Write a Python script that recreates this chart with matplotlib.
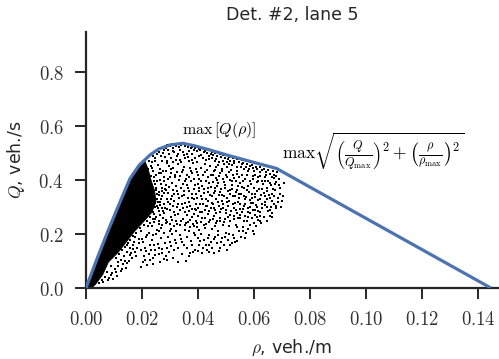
import matplotlib
matplotlib.use("Agg")
import matplotlib.pyplot as plt
from matplotlib.ticker import FuncFormatter

plt.rcParams['font.family'] = ['DejaVu Sans']
plt.rcParams['mathtext.fontset'] = 'cm'

title = "Det. #2, lane 5"
x_label = r"$\rho$, veh./m"
y_label = r"$Q$, veh./s"
x_ticks = [0.00, 0.02, 0.04, 0.06, 0.08, 0.10, 0.12, 0.14]
y_ticks = [0.0, 0.2, 0.4, 0.6, 0.8]

# Fitted fundamental diagram (blue curve): density (veh./m), flow (veh./s)
curve_rho = [0.0, 0.004, 0.008, 0.012, 0.0157, 0.019, 0.0229, 0.026, 0.030,
             0.0346, 0.039, 0.0443, 0.0505, 0.0568, 0.0625, 0.0680, 0.1446]
curve_q = [0.0, 0.110, 0.215, 0.315, 0.405, 0.455, 0.493, 0.515, 0.530,
           0.536, 0.526, 0.511, 0.492, 0.474, 0.458, 0.443, 0.0]

# Saturated (solid black) core of the measurement cloud: outline (rho, Q)
core_rho = [0.0000, 0.0040, 0.0080, 0.0120, 0.0157, 0.0190, 0.0210, 0.0222,
            0.0232, 0.0245, 0.0250, 0.0235, 0.0205, 0.0175, 0.0145, 0.0115,
            0.0080, 0.0060, 0.0035, 0.0020]
core_q = [0.000, 0.110, 0.215, 0.315, 0.405, 0.452, 0.470, 0.440,
          0.400, 0.360, 0.320, 0.280, 0.245, 0.212, 0.172, 0.132,
          0.096, 0.050, 0.015, 0.000]

# Individual measurements, (rho in 1e-3 veh./m, Q in 1e-3 veh./s)
core_edge_points = [
    (22.0,440),(23.2,415),(24.6,385),(25.3,350),(25.8,320),(25.4,305),(24.3,275),(23.0,262),(21.8,250),
    (20.6,235),(19.2,222),(18.0,205),(16.8,192),(15.6,178),(14.6,160),(23.6,445),(24.2,398),(26.4,400),
    (27.2,360),(26.9,330),(24.0,255),(22.1,230),(19.8,210),(17.6,190),
]

dense_points = [
    (22.5,470),(23.1,452),(24.0,488),(25.2,498),(26.0,505),(24.6,470),(25.8,455),(23.8,432),(25.1,418),
    (26.3,440),(27.0,470),(27.4,500),(26.8,425),(25.5,395),(26.9,385),(24.9,372),(26.1,355),(27.3,342),
    (25.3,330),(26.6,318),(24.7,300),(25.9,286),(27.1,296),(26.4,270),(25.0,262),(27.6,258),(24.2,245),
    (26.0,236),(23.4,228),(25.2,214),(22.6,205),(24.1,196),(21.4,188),(27.9,410),(28.2,365),(28.0,312),
    (27.7,278),(28.4,240),(26.7,222),
    (28.6,520),(29.3,512),(30.1,525),(31.0,518),(32.2,527),(33.1,522),(29.8,495),(31.4,502),(32.8,498),
    (30.5,480),(28.9,470),(32.0,474),(33.0,458),(29.6,452),(31.2,446),(28.7,432),(30.3,425),(32.5,430),
    (31.7,410),(29.2,402),(33.2,400),(30.6,390),(28.5,382),(32.3,378),(31.1,364),(29.4,352),(30.8,340),
    (32.9,348),(28.8,330),(31.6,322),(30.0,310),(32.4,300),(29.1,292),(31.3,282),(33.0,275),(30.4,262),
    (28.6,252),(32.1,248),(29.9,238),(31.5,228),(30.2,218),(33.4,232),
    (34.0,530),(35.2,526),(36.4,521),(37.5,518),(38.6,512),(34.6,505),(36.0,498),(37.9,495),(35.5,480),
    (34.1,468),(36.9,470),(38.3,462),(35.0,448),(37.2,444),(34.4,428),(36.1,420),(38.0,425),(35.7,405),
    (37.4,398),(34.8,385),(38.8,380),(36.5,372),(35.1,358),(37.7,350),(34.2,340),(36.3,335),(38.4,328),
    (35.4,315),(37.1,305),(34.7,295),(36.8,285),(38.9,292),(35.9,270),(37.8,262),(34.5,255),(36.6,244),
    (38.2,238),(35.3,232),(37.3,225),
    (39.5,508),(40.8,510),(42.0,503),(43.3,500),(44.5,497),(40.2,488),(41.7,482),(43.9,478),(39.8,465),
    (42.4,460),(44.2,452),(40.9,444),(43.1,436),(39.6,428),(41.8,420),(44.6,418),(40.5,405),(42.9,398),
    (39.9,386),(41.4,378),(43.7,372),(40.3,360),(42.2,352),(44.4,346),(39.7,335),(41.6,330),(43.5,322),
    (40.6,310),(42.7,302),(44.8,298),(39.4,290),(41.3,282),(43.4,274),(40.1,265),(42.5,258),(44.3,252),
    (41.1,245),(39.3,248),(43.0,238),
    (45.4,492),(46.8,488),(48.1,485),(49.6,480),(50.8,476),(45.9,470),(47.5,465),(49.2,460),(46.3,448),
    (48.7,442),(50.5,450),(45.6,432),(47.8,425),(50.1,420),(46.5,408),(48.9,402),(45.2,392),(47.2,388),
    (49.8,382),(46.0,372),(48.3,366),(50.6,360),(45.7,352),(47.6,345),(49.4,340),(46.6,330),(48.5,322),
    (50.3,318),(45.3,312),(47.4,305),(49.1,298),(46.2,288),(48.0,280),(50.0,276),(45.8,268),(47.9,260),
    (49.7,256),(46.9,250),
    (51.5,472),(53.0,470),(54.6,466),(56.1,462),(52.2,455),(55.3,450),(51.8,438),(53.9,432),(56.4,440),
    (52.6,418),(54.8,412),(51.3,400),(53.4,395),(55.9,398),(52.0,382),(54.2,376),(56.6,372),(51.6,362),
    (53.7,356),(55.5,350),(52.4,340),(54.5,335),(56.8,330),(51.2,322),(53.2,316),(55.1,310),(52.9,298),
    (54.9,292),(56.3,302),(51.9,285),(53.8,276),(55.7,282),(52.7,265),(54.3,260),(56.9,268),
    (57.6,458),(59.2,455),(60.7,450),(62.3,448),(58.1,440),(60.0,432),(62.0,430),(57.4,420),(59.5,415),
    (61.6,410),(58.6,398),(60.9,392),(62.7,396),(57.8,378),(59.9,372),(61.9,368),(58.3,356),(60.4,350),
    (62.5,345),(57.3,338),(59.3,332),(61.3,326),(58.8,314),(60.8,308),(62.9,312),(57.9,296),(59.7,290),
    (61.5,286),(58.5,278),(60.3,272),(62.2,268),
    (63.6,440),(65.1,436),(66.8,432),(68.2,428),(64.2,418),(66.3,412),(68.8,405),(63.9,396),(65.8,390),
    (67.6,385),(64.7,372),(66.9,366),(69.2,370),(63.4,352),(65.4,346),(67.3,342),(64.5,330),(66.5,322),
    (68.5,318),(63.8,308),(65.9,300),(67.9,295),(64.9,285),(66.6,276),(69.5,300),(70.3,340),(70.8,388),
]

more_dense_points = [
    (27.8,512),(29.0,528),(30.8,532),(33.6,535),(35.8,532),(37.0,528),(38.0,522),(39.0,520),(36.7,508),
    (33.4,510),(30.9,508),
    (40.5,515),(42.6,509),(44.9,505),(46.2,500),(47.9,495),(49.0,491),(51.0,487),(52.4,483),(54.0,479),
    (55.6,475),(57.0,470),(58.6,466),(60.2,462),(61.8,458),(63.0,455),(64.6,451),(66.2,447),(67.5,443),
    (23.5,465),(24.8,482),(26.7,490),(28.1,486),(29.0,462),(30.9,466),(32.6,488),(33.6,475),(35.0,492),
    (36.6,484),(37.8,474),(39.1,480),(41.1,492),(42.7,474),(43.8,490),(45.0,480),(46.4,476),(47.1,455),
    (48.9,470),(50.2,466),(51.1,458),(52.9,462),(54.1,450),(55.6,458),(57.0,448),(58.4,452),(59.8,444),
    (61.2,440),(62.8,438),(64.4,430),(65.8,424),(67.2,420),(68.0,414),
    (22.2,420),(23.0,400),(24.3,410),(25.9,425),(27.5,432),(28.0,395),(29.9,412),(30.4,440),(31.9,420),
    (33.5,415),(34.6,438),(35.4,395),(36.7,412),(37.6,432),(38.5,402),(39.2,440),(40.1,418),(41.2,398),
    (42.5,430),(43.4,410),(44.0,390),(45.3,420),(46.1,438),(46.9,400),(47.6,415),(48.4,432),(49.3,392),
    (50.2,410),(51.0,428),(52.1,395),(53.0,408),(53.9,422),(55.0,388),(55.8,418),(56.9,405),(57.8,432),
    (58.9,385),(59.6,405),(60.5,420),(61.4,395),(62.3,415),(63.1,385),(64.0,410),(65.0,398),(66.0,382),
    (67.0,408),(68.0,392),(69.0,380),
    (22.5,375),(23.4,350),(24.0,335),(25.0,362),(26.2,345),(27.0,370),(27.8,352),(28.6,362),(29.6,375),
    (30.2,330),(31.5,350),(32.4,360),(33.3,335),(34.1,370),(35.0,345),(35.9,380),(36.9,358),(37.8,335),
    (38.6,368),(39.3,348),(40.4,372),(41.0,340),(42.0,365),(42.8,330),(43.6,355),(44.5,375),(45.0,340),
    (46.0,360),(46.8,378),(47.7,355),(48.6,345),(49.6,370),(50.4,335),(51.3,350),(52.2,368),(53.1,340),
    (54.0,362),(54.8,348),(55.8,375),(56.5,342),(57.6,362),(58.5,325),(59.4,350),(60.2,338),(61.2,360),
    (62.0,330),(62.9,365),(63.8,340),(64.6,358),(65.6,332),(66.4,350),(67.5,362),(68.4,335),(69.4,350),
    (70.0,322),
    (22.9,300),(23.8,280),(24.6,315),(25.6,295),(26.5,308),(27.4,285),(28.2,298),(29.4,318),(30.1,290),
    (31.0,305),(31.8,270),(32.7,312),(33.6,290),(34.4,310),(35.2,282),(36.1,300),(36.9,318),(37.8,292),
    (38.5,275),(39.2,310),(40.0,295),(40.8,280),(41.7,312),(42.4,288),(43.2,302),(44.1,285),(44.9,315),
    (45.8,295),(46.5,278),(47.3,318),(48.2,292),(49.0,310),(49.9,288),(50.8,302),(51.6,270),(52.5,310),
    (53.4,288),(54.2,318),(55.1,270),(56.0,292),(56.8,312),(57.7,280),(58.6,300),(59.5,315),(60.4,290),
    (61.2,300),(62.1,282),(63.0,295),(63.9,320),(64.8,300),(65.7,288),(67.0,310),(68.0,305),
    (23.0,240),(24.8,255),(26.2,250),(27.2,232),(28.9,245),(30.8,252),(32.5,238),(33.9,248),(35.6,242),
    (37.0,252),(38.7,230),(39.8,242),(41.6,258),(42.2,232),(43.9,245),(45.5,255),(46.4,240),(47.9,248),
    (49.2,245),(50.6,262),(51.5,250),(53.0,255),(55.0,258),(56.4,250),(58.0,262),(59.3,258),(61.0,262),
]

sparse_points = [
    (4.5,18),(5.8,30),(6.9,42),(8.2,38),(7.5,60),(9.4,55),(10.2,72),(9.0,80),(11.3,95),(10.6,110),
    (12.4,105),(11.9,125),(13.6,118),(12.8,140),(14.5,132),(13.9,152),(15.6,148),(15.0,165),(16.8,160),
    (9.8,35),(11.0,45),(12.5,62),(14.2,75),(13.1,88),(15.3,100),(16.4,112),(14.8,92),(17.5,135),
    (16.1,128),(18.3,150),(17.2,172),(19.1,165),(18.8,182),(20.3,170),
    (19.5,76),(21.8,85),(24.0,90),(26.5,96),(22.7,102),(20.6,118),(23.9,112),(26.0,125),(28.4,118),
    (21.5,138),(24.8,140),(27.3,146),(29.6,132),(22.9,158),(25.6,162),(28.1,168),(30.5,155),(32.8,148),
    (20.9,150),(23.7,178),(26.8,185),(29.4,190),(31.9,178),(34.2,170),(27.9,205),(30.7,200),(33.5,195),
    (32.3,212),(25.1,200),(35.6,100),(33.0,96),(31.2,110),(34.4,125),(36.8,118),(38.2,135),
    (36.0,148),(39.1,142),(41.5,128),(43.2,140),(40.3,160),(42.8,158),(45.1,148),(47.6,138),(37.4,175),
    (39.9,185),(42.1,178),(44.6,172),(46.9,165),(49.3,160),(51.6,158),(38.6,205),(41.2,200),(43.8,198),
    (46.2,190),(48.5,185),(50.8,178),(53.2,172),(55.4,190),(44.9,218),(47.3,212),(49.9,205),(52.4,198),
    (54.7,210),(57.2,205),(59.5,210),(51.2,228),(53.6,232),(56.0,225),(58.4,232),(60.8,228),(62.6,240),
    (64.8,250),(66.5,262),(61.5,252),(63.7,262),(57.5,248),(48.8,235),(46.0,230),(42.5,222),(40.2,215),
    (36.9,210),(50.5,140),(45.6,128),
    (6.2,22),(7.8,28),(8.8,50),(10.8,60),(11.6,80),(12.9,72),(13.8,100),(15.8,122),(16.9,145),(18.0,120),
    (19.6,140),(20.2,95),(21.2,105),(22.4,125),(23.3,140),(24.3,160),(25.9,150),(27.0,130),(28.8,150),
    (30.0,170),(31.3,140),(32.2,165),(33.8,180),(35.0,158),(36.2,190),(37.9,160),(38.9,195),(40.8,175),
    (41.9,150),(43.4,185),(44.0,160),(45.8,180),(47.2,195),(48.2,172),(49.8,190),(51.0,200),(52.8,185),
    (54.1,225),(55.9,210),(57.9,220),(59.9,240),(62.0,250),(65.6,268),(39.5,225),(35.4,215),(30.0,212),
    (26.0,210),(21.9,195),(20.0,180),(24.6,122),(27.8,108),(29.0,102),(37.2,128),(40.0,138),(44.0,135),
    (48.0,150),(52.0,165),(54.0,175),(56.8,185),(60.0,200),
]

annot_peak = r"$\max\,[Q(\rho)]$"
annot_dist = r"$\max\sqrt{\left(\frac{Q}{Q_{\max}}\right)^2+\left(\frac{\rho}{\rho_{\max}}\right)^2}$"

W, H = 499, 359
fig = plt.figure(figsize=(W / 100, H / 100), dpi=100)
ax = fig.add_axes([86 / W, 1 - 288 / H, (497.6 - 86) / W, (288 - 31.5) / H])

ink = '#262626'
ax.fill(core_rho, core_q, color='black', lw=0.6, ec='black', zorder=2)
dense = core_edge_points + dense_points + more_dense_points
ax.scatter([p[0] / 1000 for p in dense], [p[1] / 1000 for p in dense],
           s=4.0, marker='s', color='black', linewidths=0, zorder=2)
ax.scatter([p[0] / 1000 for p in sparse_points], [p[1] / 1000 for p in sparse_points],
           s=3.0, marker='s', color='black', linewidths=0, zorder=2)
ax.plot(curve_rho, curve_q, color='#4C72B0', lw=2.3, zorder=3, solid_capstyle='butt')

ax.text(0.0343, 0.585, annot_peak, fontsize=11.5, va='center', ha='left')
ax.text(0.0700, 0.505, annot_dist, fontsize=12.5, va='center', ha='left')

ax.set_xlim(0, 0.147)
ax.set_ylim(0, 0.95)
ax.set_xticks(x_ticks)
ax.set_yticks(y_ticks)
ax.xaxis.set_major_formatter(FuncFormatter(lambda v, p: f"${v:.2f}$"))
ax.yaxis.set_major_formatter(FuncFormatter(lambda v, p: f"${v:.1f}$"))
for s in ['top', 'right']:
    ax.spines[s].set_visible(False)
for s in ['left', 'bottom']:
    ax.spines[s].set_linewidth(1.6)
    ax.spines[s].set_color(ink)
ax.tick_params(axis='both', length=8, width=1.4, color=ink, labelsize=13.5,
               labelcolor='#333333', pad=8)
ax.set_title(title, fontsize=12.5, color=ink, pad=8)
ax.set_xlabel(x_label, fontsize=12.5, color=ink, labelpad=6)
ax.set_ylabel(y_label, fontsize=12.5, color=ink, labelpad=8)

fig.savefig('out.png', dpi=100)
